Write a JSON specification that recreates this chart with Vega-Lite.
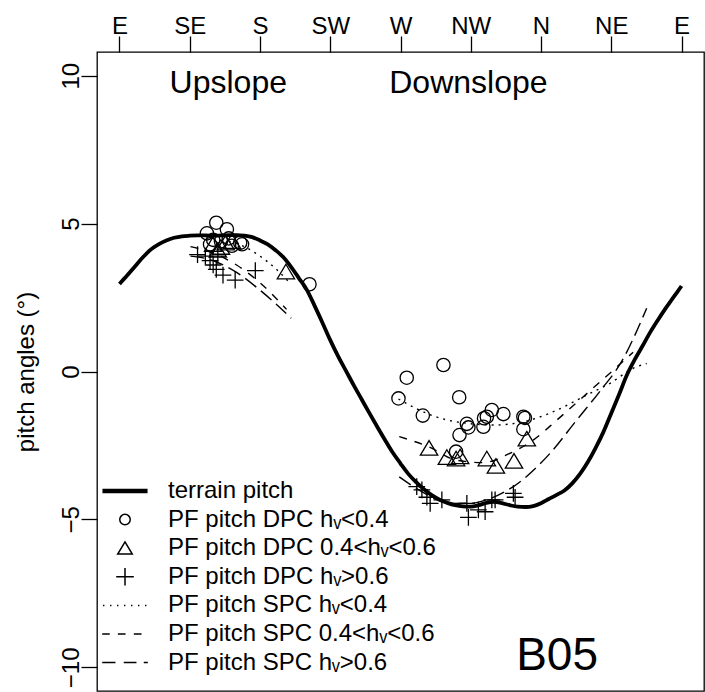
{
  "$schema": "https://vega.github.io/schema/vega-lite/v6.json",
  "width": 607,
  "height": 639,
  "autosize": {"type": "none"},
  "padding": {"left": 97, "top": 52, "right": 1, "bottom": 1},
  "background": "white",
  "config": {
    "font": "Liberation Sans",
    "view": {"stroke": "black", "strokeWidth": 1.3},
    "axis": {"grid": false, "domain": false, "tickColor": "black", "tickWidth": 1.3, "tickSize": 16, "labelFont": "Liberation Sans", "labelFontSize": 24, "labelColor": "black", "titleFont": "Liberation Sans", "titleFontSize": 24, "titleFontWeight": "normal", "titleColor": "black"},
    "legend": {"orient": "none", "legendX": 13, "legendY": 424, "title": null, "symbolSize": 784, "symbolStrokeColor": "black", "symbolFillColor": "transparent", "symbolStrokeWidth": 1.5, "symbolOpacity": 1, "labelFont": "Liberation Sans", "labelFontSize": 24, "labelColor": "black", "labelOffset": 28, "labelLimit": 500, "rowPadding": 1.6, "padding": 0}
  },
  "datasets": {
    "terrain": [
      {"dir": 90, "pitch": 2.96}, {"dir": 95, "pitch": 3.25}, {"dir": 100, "pitch": 3.56}, {"dir": 105, "pitch": 3.86},
      {"dir": 110, "pitch": 4.12}, {"dir": 115, "pitch": 4.30}, {"dir": 120, "pitch": 4.43}, {"dir": 125, "pitch": 4.52},
      {"dir": 130, "pitch": 4.57}, {"dir": 135, "pitch": 4.59}, {"dir": 140, "pitch": 4.60}, {"dir": 145, "pitch": 4.60},
      {"dir": 150, "pitch": 4.59}, {"dir": 155, "pitch": 4.60}, {"dir": 160, "pitch": 4.61}, {"dir": 165, "pitch": 4.61},
      {"dir": 170, "pitch": 4.59}, {"dir": 175, "pitch": 4.54}, {"dir": 180, "pitch": 4.43}, {"dir": 185, "pitch": 4.30},
      {"dir": 190, "pitch": 4.10}, {"dir": 195, "pitch": 3.86}, {"dir": 200, "pitch": 3.53}, {"dir": 205, "pitch": 3.15},
      {"dir": 210, "pitch": 2.76}, {"dir": 215, "pitch": 2.22}, {"dir": 220, "pitch": 1.65}, {"dir": 225, "pitch": 1.06},
      {"dir": 230, "pitch": 0.52}, {"dir": 235, "pitch": 0.03}, {"dir": 240, "pitch": -0.46}, {"dir": 245, "pitch": -0.93},
      {"dir": 250, "pitch": -1.40}, {"dir": 255, "pitch": -1.86}, {"dir": 260, "pitch": -2.31}, {"dir": 265, "pitch": -2.74},
      {"dir": 270, "pitch": -3.11}, {"dir": 275, "pitch": -3.46}, {"dir": 280, "pitch": -3.74}, {"dir": 285, "pitch": -3.98},
      {"dir": 290, "pitch": -4.18}, {"dir": 295, "pitch": -4.33}, {"dir": 300, "pitch": -4.44}, {"dir": 305, "pitch": -4.52},
      {"dir": 310, "pitch": -4.56}, {"dir": 315, "pitch": -4.57}, {"dir": 320, "pitch": -4.52}, {"dir": 325, "pitch": -4.44},
      {"dir": 330, "pitch": -4.41}, {"dir": 335, "pitch": -4.45}, {"dir": 340, "pitch": -4.52}, {"dir": 345, "pitch": -4.57},
      {"dir": 350, "pitch": -4.58}, {"dir": 355, "pitch": -4.55}, {"dir": 360, "pitch": -4.45}, {"dir": 365, "pitch": -4.31},
      {"dir": 370, "pitch": -4.17}, {"dir": 375, "pitch": -4.02}, {"dir": 380, "pitch": -3.78}, {"dir": 385, "pitch": -3.46},
      {"dir": 390, "pitch": -3.06}, {"dir": 395, "pitch": -2.58}, {"dir": 400, "pitch": -2.04}, {"dir": 405, "pitch": -1.41},
      {"dir": 410, "pitch": -0.78}, {"dir": 415, "pitch": -0.12}, {"dir": 420, "pitch": 0.40}, {"dir": 425, "pitch": 0.86},
      {"dir": 430, "pitch": 1.33}, {"dir": 435, "pitch": 1.75}, {"dir": 440, "pitch": 2.15}, {"dir": 445, "pitch": 2.52},
      {"dir": 450, "pitch": 2.89}
    ],
    "spc": [
      {"dir": 160, "pitch": 4.40, "series": "PF pitch SPC hᵥ<0.4", "part": "up"},
      {"dir": 170, "pitch": 4.22, "series": "PF pitch SPC hᵥ<0.4", "part": "up"},
      {"dir": 180, "pitch": 3.90, "series": "PF pitch SPC hᵥ<0.4", "part": "up"},
      {"dir": 190, "pitch": 3.48, "series": "PF pitch SPC hᵥ<0.4", "part": "up"},
      {"dir": 199, "pitch": 3.00, "series": "PF pitch SPC hᵥ<0.4", "part": "up"},
      {"dir": 135.5, "pitch": 4.22, "series": "PF pitch SPC 0.4<hᵥ<0.6", "part": "up"},
      {"dir": 150, "pitch": 4.00, "series": "PF pitch SPC 0.4<hᵥ<0.6", "part": "up"},
      {"dir": 165, "pitch": 3.60, "series": "PF pitch SPC 0.4<hᵥ<0.6", "part": "up"},
      {"dir": 180, "pitch": 3.00, "series": "PF pitch SPC 0.4<hᵥ<0.6", "part": "up"},
      {"dir": 197, "pitch": 2.10, "series": "PF pitch SPC 0.4<hᵥ<0.6", "part": "up"},
      {"dir": 135.5, "pitch": 3.90, "series": "PF pitch SPC hᵥ>0.6", "part": "up"},
      {"dir": 150, "pitch": 3.75, "series": "PF pitch SPC hᵥ>0.6", "part": "up"},
      {"dir": 165, "pitch": 3.35, "series": "PF pitch SPC hᵥ>0.6", "part": "up"},
      {"dir": 180, "pitch": 2.75, "series": "PF pitch SPC hᵥ>0.6", "part": "up"},
      {"dir": 200, "pitch": 1.80, "series": "PF pitch SPC hᵥ>0.6", "part": "up"},
      {"dir": 268.7, "pitch": -0.93, "series": "PF pitch SPC hᵥ<0.4", "part": "down"},
      {"dir": 280, "pitch": -1.25, "series": "PF pitch SPC hᵥ<0.4", "part": "down"},
      {"dir": 291, "pitch": -1.50, "series": "PF pitch SPC hᵥ<0.4", "part": "down"},
      {"dir": 300, "pitch": -1.64, "series": "PF pitch SPC hᵥ<0.4", "part": "down"},
      {"dir": 312.5, "pitch": -1.75, "series": "PF pitch SPC hᵥ<0.4", "part": "down"},
      {"dir": 329.5, "pitch": -1.81, "series": "PF pitch SPC hᵥ<0.4", "part": "down"},
      {"dir": 348.7, "pitch": -1.70, "series": "PF pitch SPC hᵥ<0.4", "part": "down"},
      {"dir": 366, "pitch": -1.40, "series": "PF pitch SPC hᵥ<0.4", "part": "down"},
      {"dir": 391.4, "pitch": -0.74, "series": "PF pitch SPC hᵥ<0.4", "part": "down"},
      {"dir": 404.2, "pitch": -0.40, "series": "PF pitch SPC hᵥ<0.4", "part": "down"},
      {"dir": 419.1, "pitch": 0.11, "series": "PF pitch SPC hᵥ<0.4", "part": "down"},
      {"dir": 427.7, "pitch": 0.27, "series": "PF pitch SPC hᵥ<0.4", "part": "down"},
      {"dir": 269.2, "pitch": -2.20, "series": "PF pitch SPC 0.4<hᵥ<0.6", "part": "down"},
      {"dir": 288.3, "pitch": -2.55, "series": "PF pitch SPC 0.4<hᵥ<0.6", "part": "down"},
      {"dir": 306, "pitch": -3.00, "series": "PF pitch SPC 0.4<hᵥ<0.6", "part": "down"},
      {"dir": 323, "pitch": -3.08, "series": "PF pitch SPC 0.4<hᵥ<0.6", "part": "down"},
      {"dir": 340, "pitch": -2.77, "series": "PF pitch SPC 0.4<hᵥ<0.6", "part": "down"},
      {"dir": 355, "pitch": -2.32, "series": "PF pitch SPC 0.4<hᵥ<0.6", "part": "down"},
      {"dir": 370, "pitch": -1.65, "series": "PF pitch SPC 0.4<hᵥ<0.6", "part": "down"},
      {"dir": 385, "pitch": -0.95, "series": "PF pitch SPC 0.4<hᵥ<0.6", "part": "down"},
      {"dir": 400, "pitch": -0.25, "series": "PF pitch SPC 0.4<hᵥ<0.6", "part": "down"},
      {"dir": 419, "pitch": 0.65, "series": "PF pitch SPC 0.4<hᵥ<0.6", "part": "down"},
      {"dir": 269.2, "pitch": -3.56, "series": "PF pitch SPC hᵥ>0.6", "part": "down"},
      {"dir": 285, "pitch": -4.10, "series": "PF pitch SPC hᵥ>0.6", "part": "down"},
      {"dir": 301.7, "pitch": -4.46, "series": "PF pitch SPC hᵥ>0.6", "part": "down"},
      {"dir": 315, "pitch": -4.45, "series": "PF pitch SPC hᵥ>0.6", "part": "down"},
      {"dir": 327.2, "pitch": -4.30, "series": "PF pitch SPC hᵥ>0.6", "part": "down"},
      {"dir": 342.3, "pitch": -3.89, "series": "PF pitch SPC hᵥ>0.6", "part": "down"},
      {"dir": 365.7, "pitch": -2.77, "series": "PF pitch SPC hᵥ>0.6", "part": "down"},
      {"dir": 382.9, "pitch": -1.64, "series": "PF pitch SPC hᵥ>0.6", "part": "down"},
      {"dir": 398.3, "pitch": -0.63, "series": "PF pitch SPC hᵥ>0.6", "part": "down"},
      {"dir": 411, "pitch": 0.28, "series": "PF pitch SPC hᵥ>0.6", "part": "down"},
      {"dir": 427.7, "pitch": 2.14, "series": "PF pitch SPC hᵥ>0.6", "part": "down"}
    ],
    "pts": [
      {"dir": 146, "pitch": 4.67, "series": "PF pitch DPC hᵥ<0.4"},
      {"dir": 152, "pitch": 5.03, "series": "PF pitch DPC hᵥ<0.4"},
      {"dir": 158.8, "pitch": 4.81, "series": "PF pitch DPC hᵥ<0.4"},
      {"dir": 167.3, "pitch": 4.35, "series": "PF pitch DPC hᵥ<0.4"},
      {"dir": 168.5, "pitch": 4.30, "series": "PF pitch DPC hᵥ<0.4"},
      {"dir": 150, "pitch": 4.45, "series": "PF pitch DPC hᵥ<0.4"},
      {"dir": 155, "pitch": 4.40, "series": "PF pitch DPC hᵥ<0.4"},
      {"dir": 160, "pitch": 4.50, "series": "PF pitch DPC hᵥ<0.4"},
      {"dir": 148, "pitch": 4.30, "series": "PF pitch DPC hᵥ<0.4"},
      {"dir": 162, "pitch": 4.25, "series": "PF pitch DPC hᵥ<0.4"},
      {"dir": 211.7, "pitch": 2.95, "series": "PF pitch DPC hᵥ<0.4"},
      {"dir": 297.5, "pitch": 0.22, "series": "PF pitch DPC hᵥ<0.4"},
      {"dir": 274, "pitch": -0.21, "series": "PF pitch DPC hᵥ<0.4"},
      {"dir": 268.7, "pitch": -0.91, "series": "PF pitch DPC hᵥ<0.4"},
      {"dir": 307.6, "pitch": -0.87, "series": "PF pitch DPC hᵥ<0.4"},
      {"dir": 284.3, "pitch": -1.49, "series": "PF pitch DPC hᵥ<0.4"},
      {"dir": 328.5, "pitch": -1.30, "series": "PF pitch DPC hᵥ<0.4"},
      {"dir": 335.9, "pitch": -1.44, "series": "PF pitch DPC hᵥ<0.4"},
      {"dir": 325.3, "pitch": -1.53, "series": "PF pitch DPC hᵥ<0.4"},
      {"dir": 323.5, "pitch": -1.58, "series": "PF pitch DPC hᵥ<0.4"},
      {"dir": 312.5, "pitch": -1.77, "series": "PF pitch DPC hᵥ<0.4"},
      {"dir": 313.5, "pitch": -1.89, "series": "PF pitch DPC hᵥ<0.4"},
      {"dir": 323.1, "pitch": -1.87, "series": "PF pitch DPC hᵥ<0.4"},
      {"dir": 307.8, "pitch": -2.15, "series": "PF pitch DPC hᵥ<0.4"},
      {"dir": 348.7, "pitch": -1.53, "series": "PF pitch DPC hᵥ<0.4"},
      {"dir": 349.7, "pitch": -1.57, "series": "PF pitch DPC hᵥ<0.4"},
      {"dir": 348.7, "pitch": -1.95, "series": "PF pitch DPC hᵥ<0.4"},
      {"dir": 305.6, "pitch": -2.71, "series": "PF pitch DPC hᵥ<0.4"},
      {"dir": 150, "pitch": 4.30, "series": "PF pitch DPC 0.4<hᵥ<0.6"},
      {"dir": 155, "pitch": 4.20, "series": "PF pitch DPC 0.4<hᵥ<0.6"},
      {"dir": 158, "pitch": 4.35, "series": "PF pitch DPC 0.4<hᵥ<0.6"},
      {"dir": 162, "pitch": 4.40, "series": "PF pitch DPC 0.4<hᵥ<0.6"},
      {"dir": 153, "pitch": 4.10, "series": "PF pitch DPC 0.4<hᵥ<0.6"},
      {"dir": 196.6, "pitch": 3.37, "series": "PF pitch DPC 0.4<hᵥ<0.6"},
      {"dir": 288.3, "pitch": -2.59, "series": "PF pitch DPC 0.4<hᵥ<0.6"},
      {"dir": 299.7, "pitch": -2.90, "series": "PF pitch DPC 0.4<hᵥ<0.6"},
      {"dir": 305.6, "pitch": -2.95, "series": "PF pitch DPC 0.4<hᵥ<0.6"},
      {"dir": 308.2, "pitch": -2.88, "series": "PF pitch DPC 0.4<hᵥ<0.6"},
      {"dir": 325.3, "pitch": -2.95, "series": "PF pitch DPC 0.4<hᵥ<0.6"},
      {"dir": 331.1, "pitch": -3.20, "series": "PF pitch DPC 0.4<hᵥ<0.6"},
      {"dir": 342.7, "pitch": -3.03, "series": "PF pitch DPC 0.4<hᵥ<0.6"},
      {"dir": 350.9, "pitch": -2.28, "series": "PF pitch DPC 0.4<hᵥ<0.6"},
      {"dir": 140, "pitch": 3.95, "series": "PF pitch DPC hᵥ>0.6"},
      {"dir": 145, "pitch": 3.90, "series": "PF pitch DPC hᵥ>0.6"},
      {"dir": 148, "pitch": 3.75, "series": "PF pitch DPC hᵥ>0.6"},
      {"dir": 150, "pitch": 3.60, "series": "PF pitch DPC hᵥ>0.6"},
      {"dir": 153, "pitch": 3.90, "series": "PF pitch DPC hᵥ>0.6"},
      {"dir": 152, "pitch": 3.45, "series": "PF pitch DPC hᵥ>0.6"},
      {"dir": 156.3, "pitch": 3.26, "series": "PF pitch DPC hᵥ>0.6"},
      {"dir": 164.1, "pitch": 3.09, "series": "PF pitch DPC hᵥ>0.6"},
      {"dir": 177, "pitch": 3.41, "series": "PF pitch DPC hᵥ>0.6"},
      {"dir": 280.4, "pitch": -3.89, "series": "PF pitch DPC hᵥ>0.6"},
      {"dir": 283.7, "pitch": -4.00, "series": "PF pitch DPC hᵥ>0.6"},
      {"dir": 286.9, "pitch": -4.25, "series": "PF pitch DPC hᵥ>0.6"},
      {"dir": 289, "pitch": -4.46, "series": "PF pitch DPC hᵥ>0.6"},
      {"dir": 296.5, "pitch": -4.34, "series": "PF pitch DPC hᵥ>0.6"},
      {"dir": 312.5, "pitch": -4.46, "series": "PF pitch DPC hᵥ>0.6"},
      {"dir": 313.5, "pitch": -4.93, "series": "PF pitch DPC hᵥ>0.6"},
      {"dir": 319.9, "pitch": -4.68, "series": "PF pitch DPC hᵥ>0.6"},
      {"dir": 324.2, "pitch": -4.74, "series": "PF pitch DPC hᵥ>0.6"},
      {"dir": 328.5, "pitch": -4.34, "series": "PF pitch DPC hᵥ>0.6"},
      {"dir": 330.6, "pitch": -4.34, "series": "PF pitch DPC hᵥ>0.6"},
      {"dir": 342.3, "pitch": -4.12, "series": "PF pitch DPC hᵥ>0.6"},
      {"dir": 343.4, "pitch": -4.25, "series": "PF pitch DPC hᵥ>0.6"}
    ],
    "notes": [
      {"dir": 159.7, "pitch": 9.43, "label": "Upslope"},
      {"dir": 313.5, "pitch": 9.43, "label": "Downslope"}
    ],
    "tag": [
      {"dir": 370.3, "pitch": -10.09, "label": "B05"}
    ]
  },
  "encoding": {
    "x": {"field": "dir", "type": "quantitative",
      "scale": {"domain": [75.6, 464.4], "nice": false, "zero": false},
      "axis": {"orient": "top", "title": null, "values": [90, 135, 180, 225, 270, 315, 360, 405, 450],
        "labelExpr": "['E','SE','S','SW','W','NW','N','NE','E'][round((datum.value-90)/45)]",
        "labelBaseline": "alphabetic", "labelPadding": 2.5, "labelFlush": false, "labelOverlap": false}},
    "y": {"field": "pitch", "type": "quantitative",
      "scale": {"domain": [-10.8, 10.8], "nice": false, "zero": false},
      "axis": {"title": "pitch angles (°)", "values": [-10, -5, 0, 5, 10], "labelAngle": 270,
        "labelAlign": "center", "labelBaseline": "alphabetic", "labelPadding": 3, "labelFlush": false, "labelOverlap": false,
        "titleAngle": 270, "titleX": -64, "titleY": 319.5, "titleAlign": "center", "titleBaseline": "alphabetic"}}
  },
  "layer": [
    {
      "data": {"values": [{}]},
      "mark": {"type": "rule", "color": "#bebebe", "strokeWidth": 1.5},
      "encoding": {"y": {"datum": 0}, "x": {"datum": 75.6}, "x2": {"datum": 464.4}}
    },
    {
      "data": {"name": "terrain"},
      "mark": {"type": "line", "color": "black", "strokeWidth": 3.8, "interpolate": "monotone"}
    },
    {
      "data": {"name": "spc"},
      "mark": {"type": "line", "color": "black", "strokeWidth": 1.4, "interpolate": "monotone"},
      "encoding": {
        "detail": {"field": "part"},
        "strokeDash": {"field": "series", "type": "nominal", "legend": null,
          "scale": {"domain": ["PF pitch SPC hᵥ<0.4", "PF pitch SPC 0.4<hᵥ<0.6", "PF pitch SPC hᵥ>0.6"],
            "range": [[2, 5], [8, 8], [14, 6]]}}
      }
    },
    {
      "data": {"name": "pts"},
      "transform": [{"filter": "datum.series == 'PF pitch DPC hᵥ<0.4'"}],
      "mark": {"type": "point", "filled": false, "color": "black", "strokeWidth": 1.3, "opacity": 1, "size": 1258},
      "encoding": {
        "shape": {"field": "series", "type": "nominal",
          "scale": {"domain": ["terrain pitch", "PF pitch DPC hᵥ<0.4", "PF pitch DPC 0.4<hᵥ<0.6", "PF pitch DPC hᵥ>0.6", "PF pitch SPC hᵥ<0.4", "PF pitch SPC 0.4<hᵥ<0.6", "PF pitch SPC hᵥ>0.6"],
            "range": [
              "M-1.61,-0.1H1.61M-1.61,-0.05H1.61M-1.61,0H1.61M-1.61,0.05H1.61M-1.61,0.1H1.61",
              "M0.375,0A0.375,0.375,0,1,1,-0.375,0A0.375,0.375,0,1,1,0.375,0Z",
              "M0,-0.45L0.52,0.42L-0.52,0.42Z",
              "M-0.63,0H0.63M0,-0.63V0.63",
              "M-1.57,0h0.1M-1.07,0h0.1M-0.57,0h0.1M-0.07,0h0.1M0.43,0h0.1M0.93,0h0.1M1.43,0h0.1",
              "M-1.63,0H-1.09M-0.51,0H0.04M0.63,0H1.18",
              "M-1.63,0H-0.68M-0.09,0H0.82M1.34,0H1.63"
            ]},
          "legend": {"orient": "none", "legendX": 13, "legendY": 424, "title": null}}
      }
    },
    {
      "data": {"name": "pts"},
      "transform": [{"filter": "datum.series == 'PF pitch DPC 0.4<hᵥ<0.6'"}],
      "mark": {"type": "point", "filled": false, "color": "black", "strokeWidth": 1.3, "opacity": 1, "size": 1115},
      "encoding": {"shape": {"field": "series", "type": "nominal"}}
    },
    {
      "data": {"name": "pts"},
      "transform": [{"filter": "datum.series == 'PF pitch DPC hᵥ>0.6'"}],
      "mark": {"type": "point", "filled": false, "color": "black", "strokeWidth": 1.3, "opacity": 1, "size": 702},
      "encoding": {"shape": {"field": "series", "type": "nominal"}}
    },
    {
      "data": {"name": "notes"},
      "mark": {"type": "text", "font": "Liberation Sans", "fontSize": 32, "color": "black", "align": "center", "baseline": "alphabetic"},
      "encoding": {"text": {"field": "label"}}
    },
    {
      "data": {"name": "tag"},
      "mark": {"type": "text", "font": "Liberation Sans", "fontSize": 46, "color": "black", "align": "center", "baseline": "alphabetic"},
      "encoding": {"text": {"field": "label"}}
    }
  ]
}
